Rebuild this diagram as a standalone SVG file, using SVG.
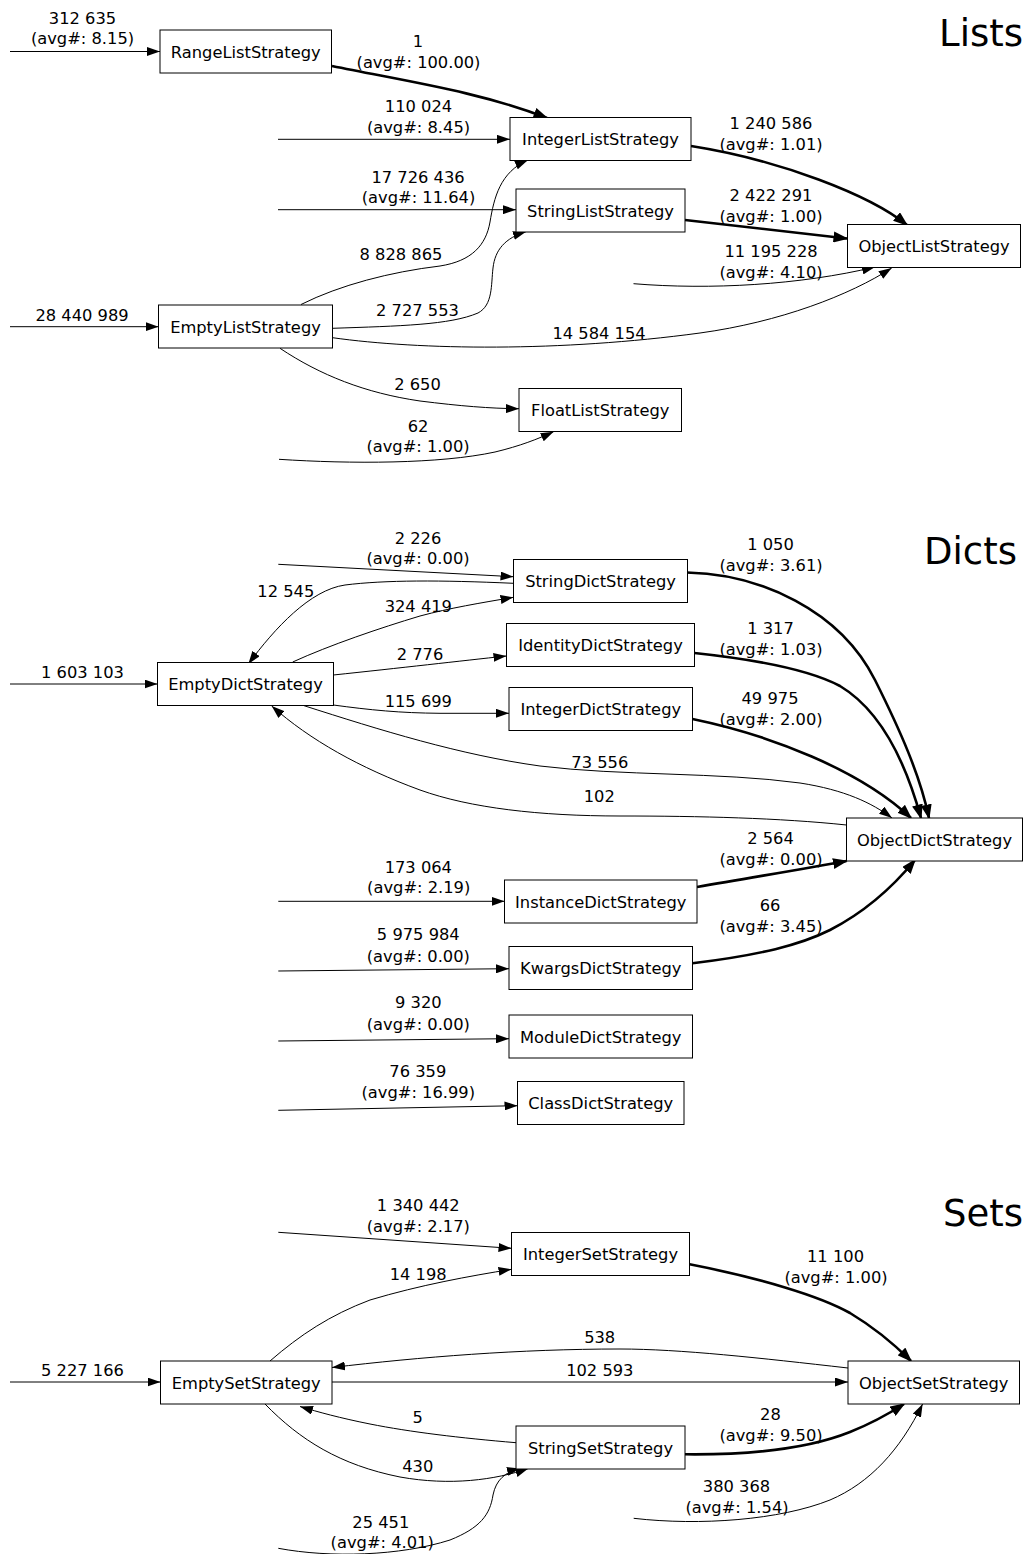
<svg xmlns="http://www.w3.org/2000/svg" width="1028" height="1554" viewBox="0 0 1028 1554">
<defs>
<style>
text{font-family:"DejaVu Sans","Liberation Sans",sans-serif;font-size:16.3px;fill:#000;text-anchor:middle}
.title{font-size:37px;text-anchor:end}
.node rect{fill:#fff;stroke:#000;stroke-width:1}
.e{fill:none;stroke:#000;stroke-width:1;marker-end:url(#a)}
.t{fill:none;stroke:#000;stroke-width:2.6;marker-end:url(#b)}
</style>
<marker id="a" markerUnits="userSpaceOnUse" viewBox="0 0 13 9" markerWidth="13" markerHeight="9" refX="13" refY="4.5" orient="auto"><path d="M0,0L13,4.5L0,9z" fill="#000"/></marker>
<marker id="b" markerUnits="userSpaceOnUse" viewBox="0 0 15 11" markerWidth="15" markerHeight="11" refX="13.5" refY="5.5" orient="auto"><path d="M0,0L15,5.5L0,11z" fill="#000"/></marker>
</defs>
<rect width="1028" height="1554" fill="#fff"/>
<text class="title" x="1023" y="46">Lists</text>
<text class="title" x="1017" y="564">Dicts</text>
<text class="title" x="1023" y="1226">Sets</text>

<g id="edges">
<g><path class="e" d="M10,51.5H160"/><text x="82.5" y="24">312 635</text><text x="82.5" y="44">(avg#: 8.15)</text></g>
<g><path class="t" d="M332,66C410,82 480,92 547,118"/><text x="418" y="46.7">1</text><text x="418.5" y="67.7">(avg#: 100.00)</text></g>
<g><path class="e" d="M278,139.3H510"/><text x="418.5" y="111.5">110 024</text><text x="418.5" y="132.5">(avg#: 8.45)</text></g>
<g><path class="e" d="M278,209.7H516"/><text x="418" y="182.5">17 726 436</text><text x="418.5" y="203.3">(avg#: 11.64)</text></g>
<g><path class="t" d="M691,146C780,160 870,195 907,225"/><text x="771" y="129.3">1 240 586</text><text x="771" y="150">(avg#: 1.01)</text></g>
<g><path class="t" d="M685,220C750,227 800,233 847,238.5"/><text x="771" y="201">2 422 291</text><text x="771" y="221.7">(avg#: 1.00)</text></g>
<g><path class="e" d="M633.5,283.7C710,290 800,285 875,267"/><text x="771" y="256.7">11 195 228</text><text x="771" y="278.3">(avg#: 4.10)</text></g>
<g><path class="e" d="M10,326.7H158.5"/><text x="82" y="321">28 440 989</text></g>
<g><path class="e" d="M301,304.5C340,285 390,272 440,266C472,261 486,245 490,222C494,198 500,172 528,160"/><text x="401" y="260">8 828 865</text></g>
<g><path class="e" d="M332.5,328.3C400,326 450,325 478,313C493,305 491,285 493,268C495,250 505,238 526,231.7"/><text x="417.5" y="316">2 727 553</text></g>
<g><path class="e" d="M332.5,337.7C420,350 560,352 700,333C780,322 850,295 891.7,268"/><text x="599" y="339">14 584 154</text></g>
<g><path class="e" d="M280,348.3C320,375 365,393 420,401C460,406 490,408.5 519,408.7"/><text x="417.5" y="390">2 650</text></g>
<g><path class="e" d="M279,459.3C350,464 440,464 495,452C520,446 538,439 553.6,431.7"/><text x="418" y="431.7">62</text><text x="418" y="452.3">(avg#: 1.00)</text></g>

<g><path class="e" d="M10,684H157.5"/><text x="82.5" y="677.7">1 603 103</text></g>
<g><path class="e" d="M278.3,564.3L513.5,576.7"/><text x="418" y="544.3">2 226</text><text x="418" y="564.3">(avg#: 0.00)</text></g>
<g><path class="e" d="M513.5,583.3C440,580 385,580 345,585C310,590 275,628 248.3,664"/><text x="285.8" y="597.3">12 545</text></g>
<g><path class="e" d="M292.7,662C330,645 380,628 420,616C450,608 480,603 513.5,597.3"/><text x="418.3" y="611.7">324 419</text></g>
<g><path class="e" d="M333.3,675C400,668 460,661 506.5,656"/><text x="420" y="660">2 776</text></g>
<g><path class="e" d="M333.3,705C370,710 400,713 440,713.3L509,713.3"/><text x="418.3" y="706.7">115 699</text></g>
<g><path class="e" d="M303.5,705.5C380,730 460,755 540,766C620,776 720,772 800,783C845,790 872,803 892,818"/><text x="599.8" y="768.3">73 556</text></g>
<g><path class="e" d="M846.5,825C780,818 700,816 620,816C540,816 470,808 420,790C360,768 310,740 271.7,706"/><text x="599.3" y="801.7">102</text></g>
<g><path class="t" d="M687,572.5C760,574 840,610 875,680C900,730 920,775 929,818"/><text x="770.5" y="550">1 050</text><text x="771" y="570.7">(avg#: 3.61)</text></g>
<g><path class="t" d="M694.5,653C760,660 810,670 840,686C880,710 905,760 921,818"/><text x="770.5" y="634.3">1 317</text><text x="771" y="655">(avg#: 1.03)</text></g>
<g><path class="t" d="M692.5,719C770,735 860,770 911,818"/><text x="770" y="704.3">49 975</text><text x="771" y="725">(avg#: 2.00)</text></g>
<g><path class="t" d="M697,887C760,876 810,868 846.5,861"/><text x="770.5" y="844.3">2 564</text><text x="771" y="865">(avg#: 0.00)</text></g>
<g><path class="t" d="M692.5,963.3C760,955 800,945 830,930C865,912 892,888 915,860"/><text x="770" y="911">66</text><text x="771" y="931.5">(avg#: 3.45)</text></g>
<g><path class="e" d="M278.3,901.3H504.5"/><text x="418.3" y="873.3">173 064</text><text x="418.7" y="893.3">(avg#: 2.19)</text></g>
<g><path class="e" d="M278.3,971L509,968.7"/><text x="418.3" y="940">5 975 984</text><text x="418.3" y="961.7">(avg#: 0.00)</text></g>
<g><path class="e" d="M278.3,1041L509,1038.7"/><text x="418.3" y="1008.3">9 320</text><text x="418.3" y="1030">(avg#: 0.00)</text></g>
<g><path class="e" d="M278.3,1110.3L517.5,1105.7"/><text x="417.8" y="1077.3">76 359</text><text x="418.3" y="1097.7">(avg#: 16.99)</text></g>

<g><path class="e" d="M10,1382H160.5"/><text x="82.5" y="1375.7">5 227 166</text></g>
<g><path class="e" d="M278.3,1232.3L511.5,1248.3"/><text x="418.3" y="1211">1 340 442</text><text x="418.3" y="1231.7">(avg#: 2.17)</text></g>
<g><path class="e" d="M270,1361C300,1335 330,1315 370,1300C420,1285 470,1276 511.5,1269.3"/><text x="418.2" y="1280">14 198</text></g>
<g><path class="t" d="M689.6,1264.3C760,1278 820,1296 850,1313C875,1328 895,1345 911,1361"/><text x="835.5" y="1261.7">11 100</text><text x="836" y="1282.7">(avg#: 1.00)</text></g>
<g><path class="e" d="M848,1368C760,1358 680,1349 620,1349C520,1349 420,1357 332,1367.5"/><text x="599.7" y="1342.7">538</text></g>
<g><path class="e" d="M332,1382H848"/><text x="599.8" y="1375.7">102 593</text></g>
<g><path class="e" d="M516,1442.7C460,1438 410,1432 370,1424C340,1418 318,1412 300,1406.5"/><text x="417.7" y="1422.7">5</text></g>
<g><path class="e" d="M265,1404C300,1440 340,1465 400,1477C450,1486 495,1480 528.3,1468.5"/><text x="417.8" y="1471.7">430</text></g>
<g><path class="e" d="M278.3,1548.3C330,1558 400,1556 450,1540C480,1528 490,1515 493,1495C496,1480 505,1472 520,1468.5"/><text x="380.8" y="1528.3">25 451</text><text x="382.2" y="1548.3">(avg#: 4.01)</text></g>
<g><path class="t" d="M685,1454.3C750,1455 810,1448 850,1432C875,1422 890,1413 904,1404"/><text x="770.4" y="1420">28</text><text x="771" y="1440.7">(avg#: 9.50)</text></g>
<g><path class="e" d="M633.7,1518.3C700,1526 780,1520 830,1500C870,1483 900,1450 922.6,1404"/><text x="736.5" y="1491.7">380 368</text><text x="737" y="1513.3">(avg#: 1.54)</text></g>
</g>

<g id="nodes">
<g id="RangeListStrategy" class="node"><rect x="160" y="30" width="171.5" height="43"/><text x="245.75" y="57.5">RangeListStrategy</text></g>
<g id="IntegerListStrategy" class="node"><rect x="510" y="117.5" width="181" height="43"/><text x="600.5" y="145">IntegerListStrategy</text></g>
<g id="StringListStrategy" class="node"><rect x="516" y="189" width="169" height="43"/><text x="600.5" y="216.5">StringListStrategy</text></g>
<g id="ObjectListStrategy" class="node"><rect x="847.5" y="224.5" width="173" height="43"/><text x="934" y="252">ObjectListStrategy</text></g>
<g id="EmptyListStrategy" class="node"><rect x="158.5" y="305" width="174" height="43"/><text x="245.5" y="332.5">EmptyListStrategy</text></g>
<g id="FloatListStrategy" class="node"><rect x="519" y="388.5" width="162.5" height="43"/><text x="600.25" y="416">FloatListStrategy</text></g>

<g id="StringDictStrategy" class="node"><rect x="513.5" y="559.5" width="174" height="43"/><text x="600.5" y="587">StringDictStrategy</text></g>
<g id="IdentityDictStrategy" class="node"><rect x="506.5" y="623.5" width="188" height="43"/><text x="600.5" y="651">IdentityDictStrategy</text></g>
<g id="IntegerDictStrategy" class="node"><rect x="509" y="687.5" width="183.5" height="43"/><text x="600.75" y="715">IntegerDictStrategy</text></g>
<g id="EmptyDictStrategy" class="node"><rect x="157.5" y="662.5" width="176" height="43"/><text x="245.5" y="690">EmptyDictStrategy</text></g>
<g id="ObjectDictStrategy" class="node"><rect x="846.5" y="818" width="176" height="43"/><text x="934.5" y="845.5">ObjectDictStrategy</text></g>
<g id="InstanceDictStrategy" class="node"><rect x="504.5" y="880" width="192.5" height="43"/><text x="600.75" y="907.5">InstanceDictStrategy</text></g>
<g id="KwargsDictStrategy" class="node"><rect x="509" y="946.5" width="183.5" height="43"/><text x="600.75" y="974">KwargsDictStrategy</text></g>
<g id="ModuleDictStrategy" class="node"><rect x="509" y="1015" width="183.5" height="43"/><text x="600.75" y="1042.5">ModuleDictStrategy</text></g>
<g id="ClassDictStrategy" class="node"><rect x="517.5" y="1081.5" width="166.5" height="43"/><text x="600.75" y="1109">ClassDictStrategy</text></g>

<g id="IntegerSetStrategy" class="node"><rect x="511.5" y="1232.5" width="178" height="43"/><text x="600.5" y="1260">IntegerSetStrategy</text></g>
<g id="EmptySetStrategy" class="node"><rect x="160.5" y="1361" width="171.5" height="43"/><text x="246.25" y="1388.5">EmptySetStrategy</text></g>
<g id="ObjectSetStrategy" class="node"><rect x="848" y="1361" width="171.5" height="43"/><text x="933.75" y="1388.5">ObjectSetStrategy</text></g>
<g id="StringSetStrategy" class="node"><rect x="516" y="1426" width="169" height="43"/><text x="600.5" y="1453.5">StringSetStrategy</text></g>
</g>
</svg>
